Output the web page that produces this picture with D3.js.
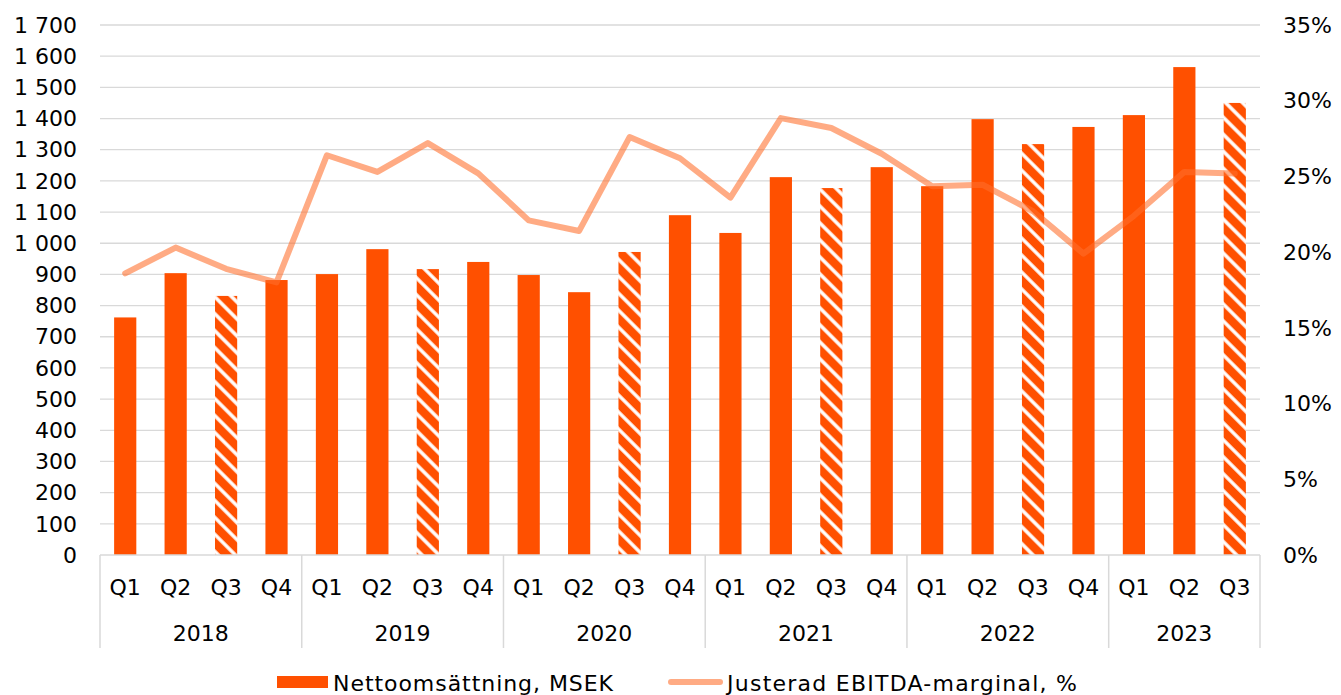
<!DOCTYPE html>
<html>
<head>
<meta charset="utf-8">
<script src="https://cdn.jsdelivr.net/npm/d3@7"></script>
<style>
  body { margin: 0; background: #fff; }
  svg { display: block; font-family: "DejaVu Sans", Verdana, sans-serif; }
</style>
</head>
<body>
<svg id="chart" width="1341" height="695"></svg>
<script>
const years = ["2018", "2019", "2020", "2021", "2022", "2023"];
const quarters = ["Q1", "Q2", "Q3", "Q4"];
// Nettoomsättning, MSEK per quarter (2018 Q1 .. 2023 Q3)
const revenue = [762, 904, 831, 882, 901, 981, 917, 940, 898, 843, 972, 1090,
  1033, 1212, 1177, 1244, 1183, 1398, 1318, 1373, 1411, 1565, 1450];
// Justerad EBITDA-marginal, %
const ebitdaMargin = [18.6, 20.3, 18.9, 18.0, 26.4, 25.3, 27.2, 25.2, 22.1, 21.4, 27.6, 26.2,
  23.6, 28.85, 28.2, 26.5, 24.35, 24.45, 22.7, 19.9, 22.4, 25.3, 25.2];
const leftTicks = d3.range(0, 1701, 100);
const rightTicks = [0, 5, 10, 15, 20, 25, 30, 35];

const svg = d3.select("#chart");
const plotLeft = 100, plotRight = 1260, plotTop = 25, plotBottom = 555;
const fontSize = 22;
const barColor = "#FF5000";

// one slot per quarter, labelled "year-quarter"
const slots = [];
years.forEach(y => quarters.forEach(q => slots.push({ year: y, q })));
const data = revenue.map((v, i) => ({ ...slots[i], value: v, pct: ebitdaMargin[i], key: slots[i].year + "-" + slots[i].q }));

const x = d3.scaleBand().domain(data.map(d => d.key)).range([plotLeft, plotRight]).paddingInner(0.56).paddingOuter(0.28);
const step = x.step();
const y = d3.scaleLinear().domain([0, 1700]).range([plotBottom, plotTop]);
const y2 = d3.scaleLinear().domain([0, 35]).range([plotBottom, plotTop]);

// hatch pattern for Q3 bars
const defs = svg.append("defs");
const pat = defs.append("pattern")
  .attr("id", "hatch")
  .attr("patternUnits", "userSpaceOnUse")
  .attr("width", 12).attr("height", 12)
  .attr("patternTransform", "rotate(-45)");
pat.append("rect").attr("width", 12).attr("height", 12).attr("fill", barColor);
pat.append("line").attr("x1", 2).attr("x2", 2).attr("y1", 0).attr("y2", 12)
  .attr("stroke", "#fff").attr("stroke-width", 3.5);

// gridlines
svg.append("g")
  .selectAll("line")
  .data(leftTicks.filter(t => t > 0))
  .join("line")
  .attr("x1", plotLeft).attr("x2", plotRight)
  .attr("y1", d => y(d)).attr("y2", d => y(d))
  .attr("stroke", "#d9d9d9").attr("stroke-width", 1.3);

// left axis labels
svg.append("g")
  .selectAll("text")
  .data(leftTicks)
  .join("text")
  .attr("x", 77).attr("y", d => y(d))
  .attr("dy", "0.35em")
  .attr("text-anchor", "end")
  .attr("font-size", fontSize)
  .attr("fill", "#000")
  .text(d => d3.format(",")(d).replace(/,/g, " "));

// right axis labels
svg.append("g")
  .selectAll("text")
  .data(rightTicks)
  .join("text")
  .attr("x", 1283).attr("y", d => y2(d))
  .attr("dy", "0.35em")
  .attr("font-size", fontSize)
  .attr("fill", "#000")
  .text(d => d + "%");

// bars
svg.append("g")
  .selectAll("rect")
  .data(data)
  .join("rect")
  .attr("x", d => x(d.key))
  .attr("y", d => y(d.value))
  .attr("width", x.bandwidth())
  .attr("height", d => y(0) - y(d.value))
  .attr("fill", d => d.q === "Q3" ? "url(#hatch)" : barColor);

// x axis line and year separators
const axis = svg.append("g").attr("stroke", "#d9d9d9").attr("stroke-width", 1.5);
axis.append("line").attr("x1", plotLeft).attr("x2", plotRight).attr("y1", plotBottom).attr("y2", plotBottom);
const bounds = years.map(yr => x(yr + "-Q1") - step * x.paddingOuter());
bounds.push(plotRight);
axis.selectAll(".sep")
  .data(bounds)
  .join("line")
  .attr("class", "sep")
  .attr("x1", d => d).attr("x2", d => d)
  .attr("y1", plotBottom).attr("y2", 648);

// quarter labels
svg.append("g")
  .selectAll("text")
  .data(data)
  .join("text")
  .attr("x", d => x(d.key) + x.bandwidth() / 2)
  .attr("y", 587)
  .attr("dy", "0.35em")
  .attr("text-anchor", "middle")
  .attr("font-size", fontSize)
  .attr("fill", "#000")
  .text(d => d.q);

// year labels
svg.append("g")
  .selectAll("text")
  .data(years)
  .join("text")
  .attr("x", d => {
    const keys = data.filter(r => r.year === d).map(r => r.key);
    return (x(keys[0]) + x(keys[keys.length - 1]) + x.bandwidth()) / 2;
  })
  .attr("y", 633)
  .attr("dy", "0.35em")
  .attr("text-anchor", "middle")
  .attr("font-size", fontSize)
  .attr("fill", "#000")
  .text(d => d);

// margin line
const line = d3.line()
  .x(d => x(d.key) + x.bandwidth() / 2)
  .y(d => y2(d.pct));
svg.append("path")
  .datum(data)
  .attr("d", line)
  .attr("fill", "none")
  .attr("stroke", "rgb(255,110,43)")
  .attr("stroke-opacity", 0.58)
  .attr("stroke-width", 6)
  .attr("stroke-linejoin", "round")
  .attr("stroke-linecap", "round");

// legend
const lg = svg.append("g");
lg.append("rect").attr("x", 277).attr("y", 676).attr("width", 51).attr("height", 12).attr("fill", barColor);
lg.append("text").attr("x", 333).attr("y", 683).attr("dy", "0.35em")
  .attr("font-size", fontSize).attr("fill", "#000")
  .attr("textLength", 280).attr("lengthAdjust", "spacing")
  .text("Nettoomsättning, MSEK");
lg.append("line").attr("x1", 671).attr("x2", 720).attr("y1", 682).attr("y2", 682)
  .attr("stroke", "rgb(255,110,43)").attr("stroke-opacity", 0.58)
  .attr("stroke-width", 6).attr("stroke-linecap", "round");
lg.append("text").attr("x", 727).attr("y", 683).attr("dy", "0.35em")
  .attr("font-size", fontSize).attr("fill", "#000")
  .attr("textLength", 350).attr("lengthAdjust", "spacing")
  .text("Justerad EBITDA-marginal, %");
</script>
</body>
</html>
